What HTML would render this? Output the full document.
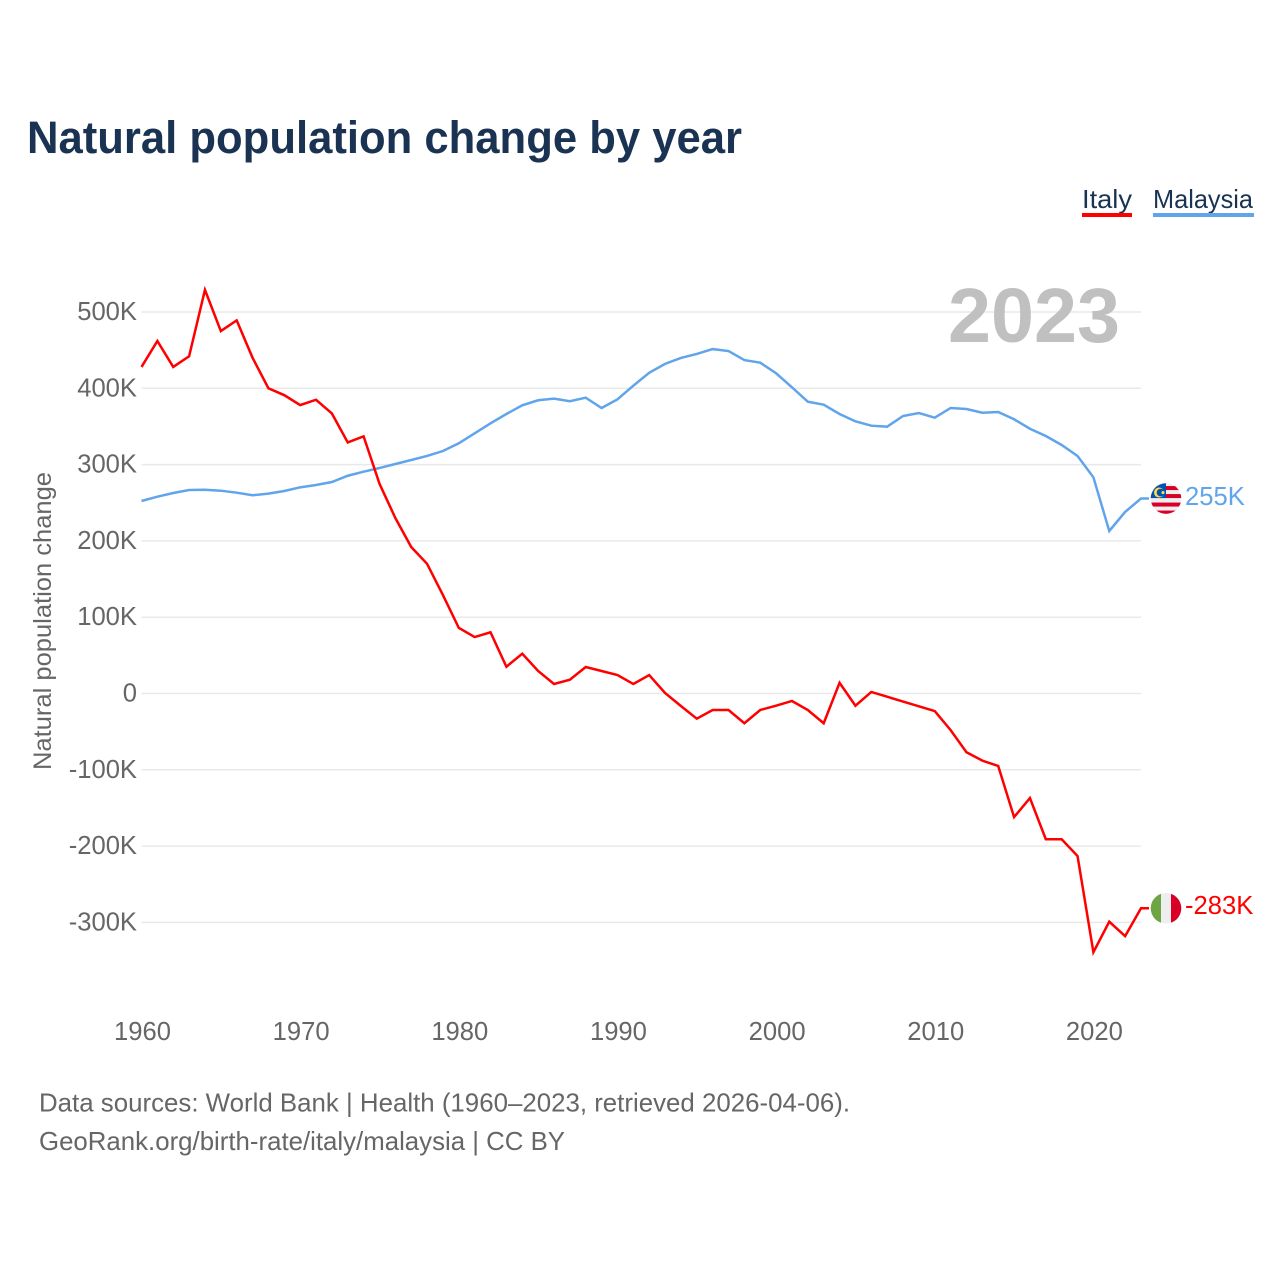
<!DOCTYPE html>
<html lang="en">
<head>
<meta charset="utf-8">
<title>Natural population change by year</title>
<style>
html,body{margin:0;padding:0;background:#fff;width:1280px;height:1280px;overflow:hidden}
svg{display:block}
text{font-family:"Liberation Sans",sans-serif}
</style>
</head>
<body>
<svg id="chart" width="1280" height="1280" viewBox="0 0 1280 1280" xmlns="http://www.w3.org/2000/svg">
  <defs>
    <clipPath id="flag-clip"><circle cx="0" cy="0" r="15.3"></circle></clipPath>
  </defs>
  <text x="27" y="153" font-size="45" font-weight="700" fill="#1a3353" textLength="715" lengthAdjust="spacingAndGlyphs">Natural population change by year</text>
  <g>
    <text x="1082" y="208" font-size="26" fill="#1a3353" textLength="50" lengthAdjust="spacingAndGlyphs">Italy</text>
    <rect x="1082" y="213" width="50" height="4" fill="#ff0000"></rect>
  </g>
  <g>
    <text x="1153" y="208" font-size="26" fill="#1a3353" textLength="100" lengthAdjust="spacingAndGlyphs">Malaysia</text>
    <rect x="1153" y="213" width="101" height="4" fill="#60a5ec"></rect>
  </g>
  <g id="grid"></g>
  <g id="y-axis"></g>
  <g id="x-axis"></g>
  <text x="948" y="342" font-size="77" font-weight="700" fill="#c0c0c0" textLength="172" lengthAdjust="spacingAndGlyphs">2023</text>
  <text transform="translate(51,621) rotate(-90)" text-anchor="middle" font-size="25" fill="#666666" textLength="298" lengthAdjust="spacingAndGlyphs">Natural population change</text>
  <g id="series"></g>
  <g id="flag-malaysia">
    <g clip-path="url(#flag-clip)">
      <rect x="-16" y="-16" width="32" height="32" fill="#eeeeee"></rect>
      <rect x="-16" y="-12.5" width="32" height="4" fill="#d80027"></rect>
      <rect x="-16" y="-4.5" width="32" height="4" fill="#d80027"></rect>
      <rect x="-16" y="4" width="32" height="4" fill="#d80027"></rect>
      <rect x="-16" y="12" width="32" height="4" fill="#d80027"></rect>
      <rect x="-16" y="-16" width="16" height="15.5" fill="#0052b4"></rect>
      <circle cx="-7" cy="-6" r="5" fill="#ffda44"></circle>
      <circle cx="-5.5" cy="-6" r="3.8" fill="#0052b4"></circle>
      <circle cx="-3" cy="-6" r="1.6" fill="#ffda44"></circle>
    </g>
  </g>
  <g id="flag-italy">
    <g clip-path="url(#flag-clip)">
      <rect x="-16" y="-16" width="32" height="32" fill="#eeeeee"></rect>
      <rect x="-16" y="-16" width="11" height="32" fill="#6da544"></rect>
      <rect x="5" y="-16" width="11" height="32" fill="#d80027"></rect>
    </g>
  </g>
  <text id="value-malaysia" x="1185" y="505" font-size="25.6" fill="#60a5ec"></text>
  <text id="value-italy" x="1185" y="914" font-size="25.6" fill="#ff0000"></text>
  <text x="39" y="1111.5" font-size="26" fill="#666666" textLength="811" lengthAdjust="spacingAndGlyphs">Data sources: World Bank | Health (1960–2023, retrieved 2026-04-06).</text>
  <text x="39" y="1150" font-size="26" fill="#666666" textLength="526" lengthAdjust="spacingAndGlyphs">GeoRank.org/birth-rate/italy/malaysia | CC BY</text>
</svg>
<script>
const firstYear = 1960;
const italyValues = [428,462,428,442,529,475,489,440,400,391,378,385,367,329,337,275,230,192,170,129,86,74,80.2,35.1,52.2,29.5,12.5,18.1,34.7,29.5,24.2,12.5,24.2,0.7,-16.4,-33,-21.6,-21.6,-39,-21.6,-16,-9.8,-21.6,-39,14,-16,2,-4.2,-10.5,-16.8,-23,-48,-77,-88,-95,-162,-137,-191,-191,-213,-339,-299,-318,-281.5];
const malaysiaValues = [252.3,258,262.8,266.7,267,265.8,263.2,259.8,261.9,265.4,270.2,273.3,277.2,285.4,290.7,295.5,300.8,306,311.3,317.8,327.9,341,354.1,366.3,377.7,384.3,386.4,383,387.7,374.2,385.6,403.4,420.4,432,439.8,445,451.4,448.8,437,433.6,419.7,401.3,382.4,378.5,366.3,356.7,351,349.7,363.7,367.6,361.5,374.2,372.9,368,368.9,359.4,347,337.5,325.7,311.3,283.4,213,238,255.5];
const yTicks = [500,400,300,200,100,0,-100,-200,-300];
const yTickLabels = ['500K','400K','300K','200K','100K','0','-100K','-200K','-300K'];
const xTicks = [1960,1970,1980,1990,2000,2010,2020];
const xTickLabels = ['1960','1970','1980','1990','2000','2010','2020'];
const endLabels = ['-283K','255K'];

const NS = 'http://www.w3.org/2000/svg';
function xScale(year){ return 141.5 + (year - 1960) * (1141 - 141.5) / 63; }
function yScale(v){ return 693.5 - v * 0.763; }

const grid = document.getElementById('grid');
const yAxis = document.getElementById('y-axis');
const xAxis = document.getElementById('x-axis');
const series = document.getElementById('series');

yTicks.forEach(function(v, i){
  const line = document.createElementNS(NS, 'line');
  
  
  line.setAttribute('x1', xScale(1960));
  line.setAttribute('x2', xScale(2023));
  line.setAttribute('y1', yScale(v));
  line.setAttribute('y2', yScale(v));
  line.setAttribute('stroke', '#e9e9e9');
  line.setAttribute('stroke-width', '1.5');
  grid.appendChild(line);
  const t = document.createElementNS(NS, 'text');
  
  
  t.setAttribute('x', 137);
  t.setAttribute('y', yScale(v) + 8);
  t.setAttribute('text-anchor', 'end');
  t.setAttribute('font-size', '25.6');
  t.setAttribute('fill', '#666666');
  t.textContent = yTickLabels[i];
  yAxis.appendChild(t);
});

xTicks.forEach(function(y, i){
  const t = document.createElementNS(NS, 'text');
  
  
  t.setAttribute('x', xScale(y) + 1);
  t.setAttribute('y', 1040);
  t.setAttribute('text-anchor', 'middle');
  t.setAttribute('font-size', '25.6');
  t.setAttribute('fill', '#666666');
  t.textContent = xTickLabels[i];
  xAxis.appendChild(t);
});

function pathFor(values){
  let d = '';
  values.forEach(function(v, i){
    d += (i ? 'L' : 'M') + xScale(firstYear + i).toFixed(2) + ' ' + yScale(v).toFixed(2);
  });
  const last = values[values.length - 1];
  d += 'L' + (xScale(firstYear + values.length - 1) + 8).toFixed(2) + ' ' + yScale(last).toFixed(2);
  return d;
}

const malaysiaLine = document.createElementNS(NS, 'path');


malaysiaLine.setAttribute('d', pathFor(malaysiaValues));
malaysiaLine.setAttribute('fill', 'none');
malaysiaLine.setAttribute('stroke', '#60a5ec');
malaysiaLine.setAttribute('stroke-width', '2.5');
series.appendChild(malaysiaLine);

const italyLine = document.createElementNS(NS, 'path');


italyLine.setAttribute('d', pathFor(italyValues));
italyLine.setAttribute('fill', 'none');
italyLine.setAttribute('stroke', '#ff0000');
italyLine.setAttribute('stroke-width', '2.5');
series.appendChild(italyLine);

const lastMalaysia = malaysiaValues[malaysiaValues.length - 1];
const lastItaly = italyValues[italyValues.length - 1];
document.getElementById('flag-malaysia').setAttribute('transform', 'translate(1166,' + yScale(lastMalaysia).toFixed(2) + ')');
document.getElementById('flag-italy').setAttribute('transform', 'translate(1166,' + yScale(lastItaly).toFixed(2) + ')');
const vm = document.getElementById('value-malaysia');
vm.setAttribute('y', (yScale(lastMalaysia) + 6.5).toFixed(2));
vm.textContent = endLabels[1];
const vi = document.getElementById('value-italy');
vi.setAttribute('y', (yScale(lastItaly) + 5.7).toFixed(2));
vi.textContent = endLabels[0];
</script>
</body>
</html>
